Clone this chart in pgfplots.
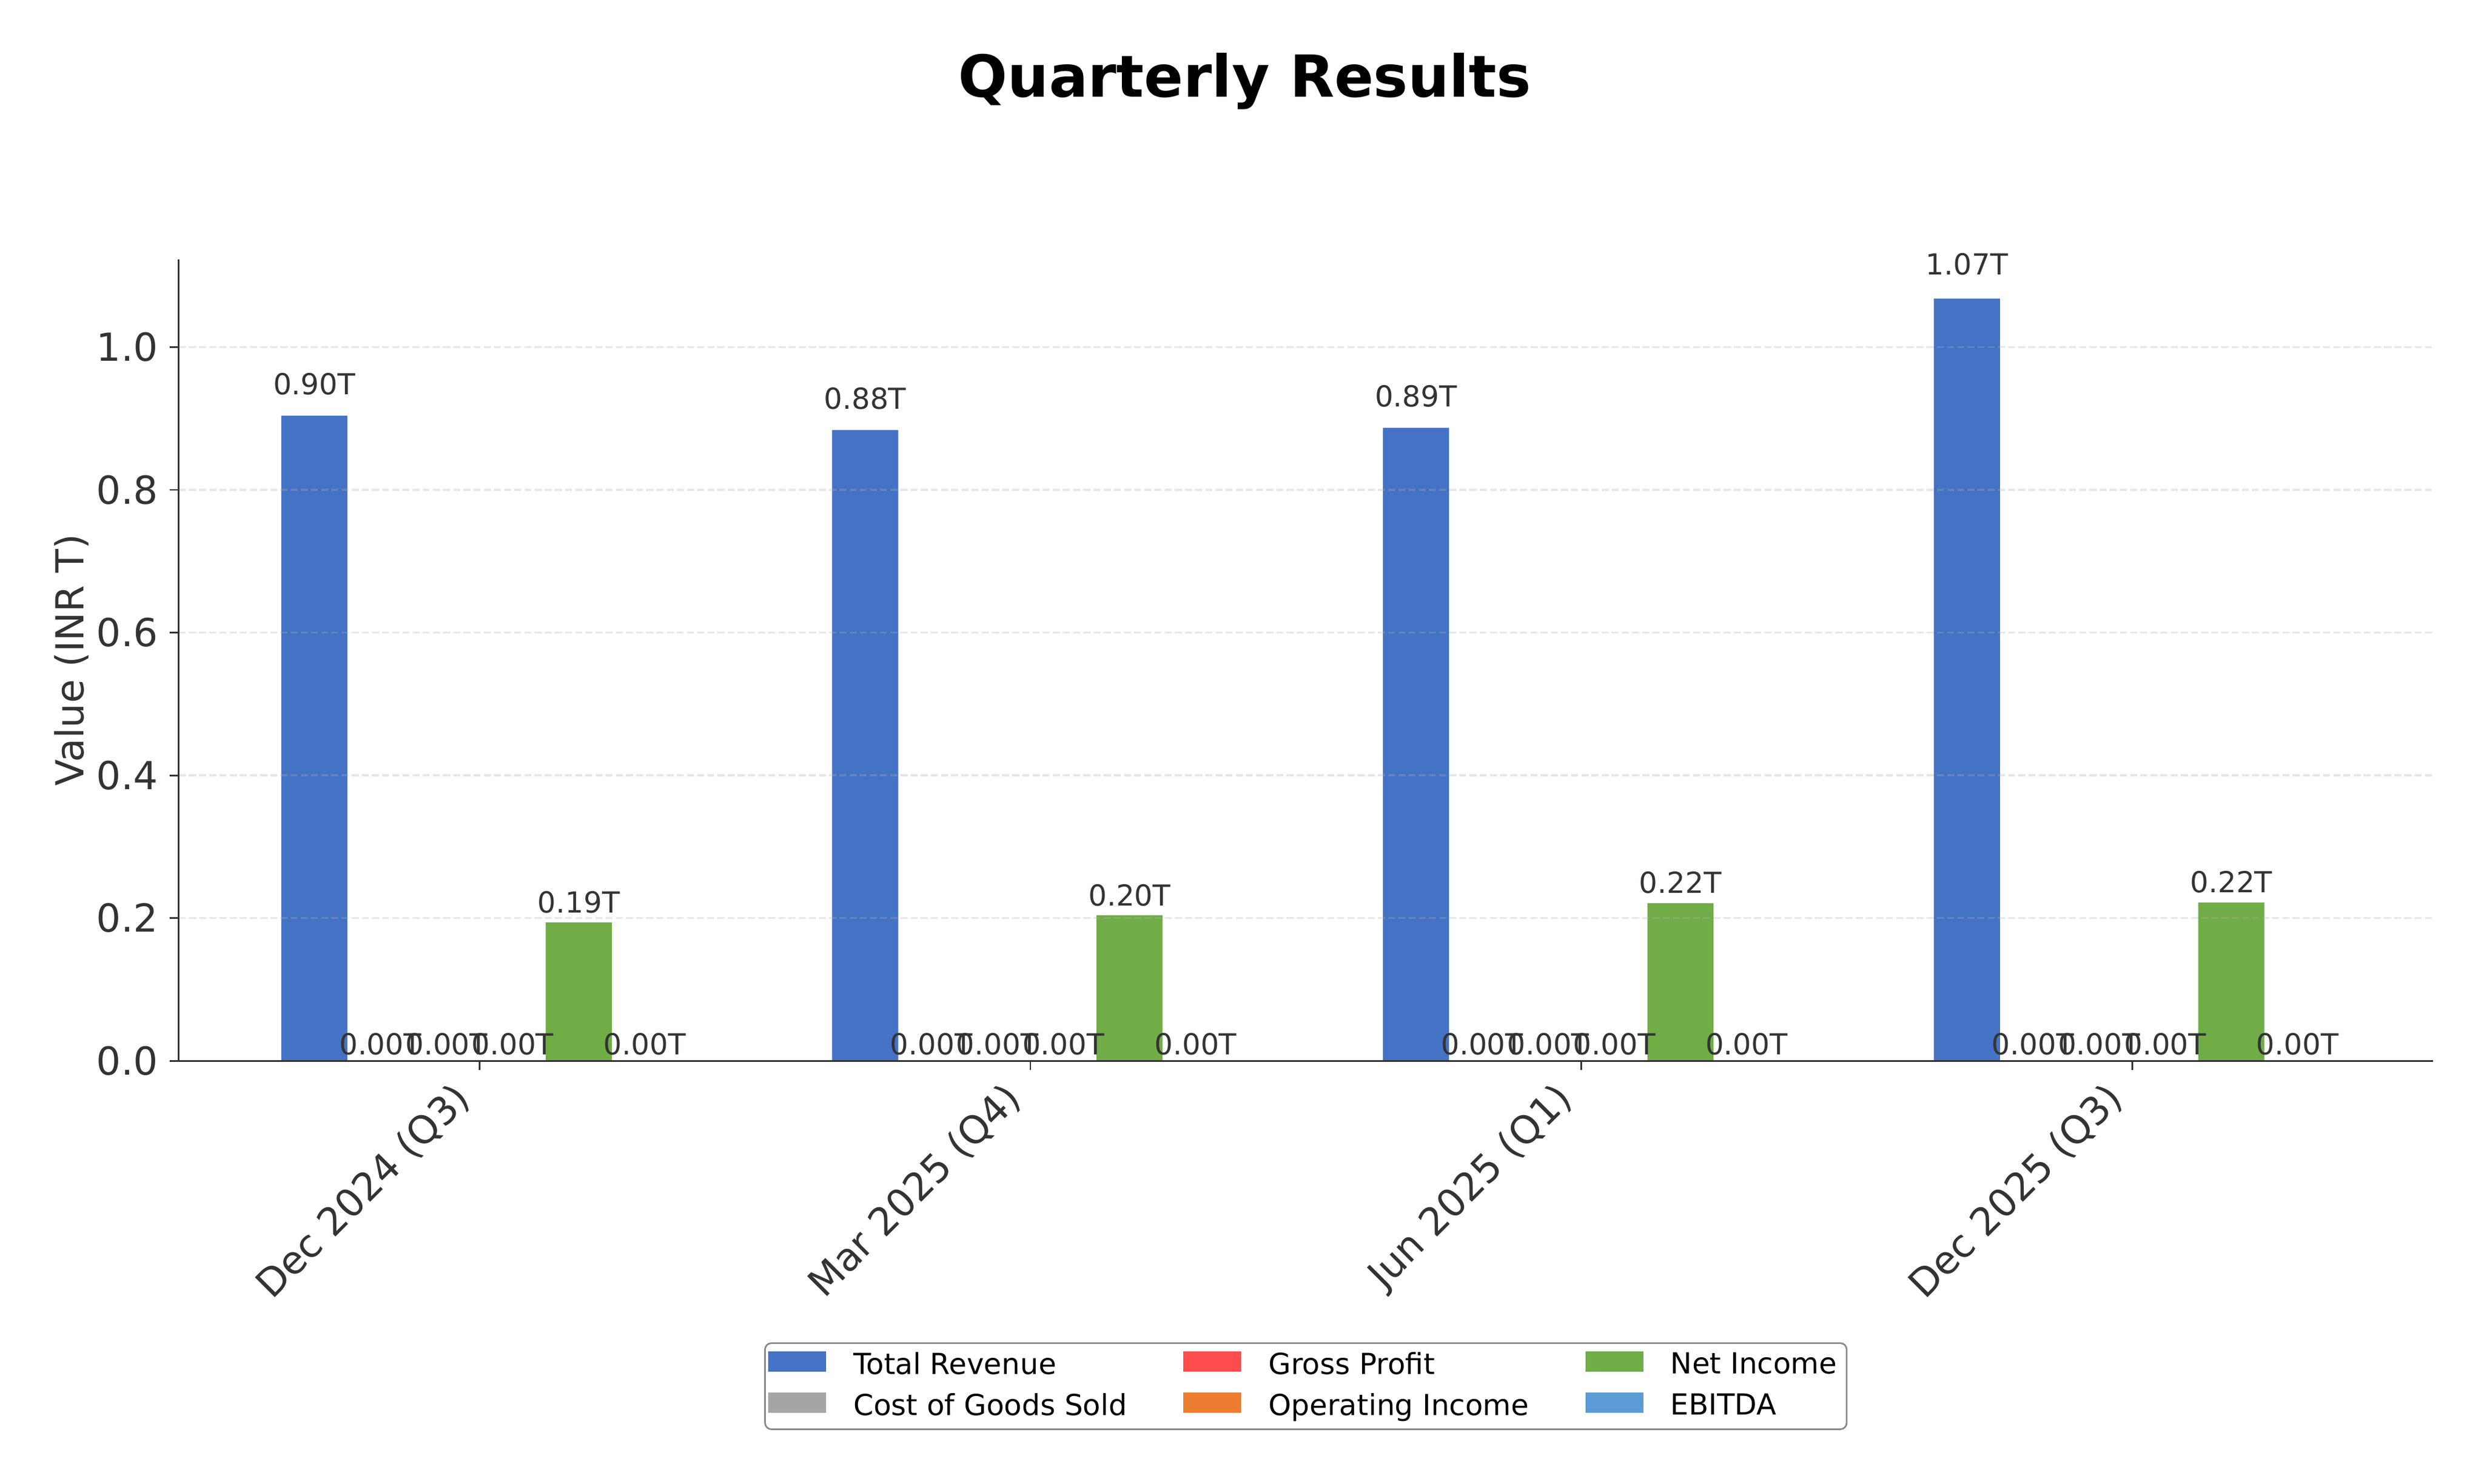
\documentclass[border=0pt]{standalone}
\usepackage{fontspec}
\setmainfont{DejaVu Sans}
\usepackage{pgfplots}
\pgfplotsset{compat=1.18}
\pgfkeys{/pgf/number format/assume math mode=true}

\definecolor{crev}{HTML}{4472C4}
\definecolor{ccogs}{HTML}{A5A5A5}
\definecolor{cgp}{HTML}{FF4C4C}
\definecolor{coi}{HTML}{ED7D31}
\definecolor{cni}{HTML}{70AD47}
\definecolor{cebitda}{HTML}{5B9BD5}
\definecolor{c333}{HTML}{333333}
\definecolor{cframe}{HTML}{888888}
\definecolor{cgrid}{HTML}{B0B0B0}

\begin{document}
\begin{tikzpicture}
\useasboundingbox (-55.6pt,-131.5pt) rectangle (716.8pt,329.8pt);
\node[anchor=base, font=\bfseries\fontsize{18}{22}\selectfont] at (331.5pt,299.6pt) {Quarterly Results};
\begin{axis}[
  at={(0,0)}, anchor=south west,
  width=700.9pt, height=249.2pt, scale only axis,
  ybar=0pt, bar width=0.12,
  xmin=-0.546, xmax=3.546, ymin=0, ymax=1.1231,
  axis on top, clip=false,
  axis x line*=bottom, axis y line*=left,
  axis line style={-, draw=c333, line width=0.5pt},
  tick align=outside, major tick length=2.8pt,
  tick style={draw=c333, line width=0.5pt},
  xtick={0,1,2,3},
  xticklabels={Dec 2024 (Q3), Mar 2025 (Q4), Jun 2025 (Q1), Dec 2025 (Q3)},
  ytick={0,0.2,0.4,0.6,0.8,1.0},
  ticklabel style={font=\fontsize{12}{14}\selectfont, text=c333},
  yticklabel style={/pgf/number format/fixed, /pgf/number format/fixed zerofill,
    /pgf/number format/precision=1, inner sep=0pt, xshift=-3.5pt},
  xticklabel style={rotate=45, anchor=north east, inner sep=0pt, xshift=-8.2pt, yshift=4.2pt},
  ymajorgrids,
  major grid style={draw=cgrid, opacity=0.3, line width=0.6pt, dash pattern=on 2.2pt off 0.96pt},
  ylabel={Value (INR T)},
  every axis y label/.style={at={(axis description cs:-0.0475,0.5)}, rotate=90, anchor=center,
    font=\fontsize{12}{14}\selectfont, text=c333},
  legend columns=2, transpose legend, legend cell align=left,
  legend style={at={(0.5,0)}, anchor=north, yshift=-87.5pt,
    font=\fontsize{9}{11}\selectfont, draw=cframe, line width=0.5pt,
    rounded corners=2pt, inner xsep=1pt, inner ysep=0.8pt, row sep=0.5pt,
    /tikz/every odd column/.append style={column sep=6.5pt},
    /tikz/every even column/.append style={column sep=15.5pt}},
  legend image code/.code={\fill[#1, sharp corners] (0pt,-1.9pt) rectangle (18pt,4.4pt);},
  visualization depends on={rawy \as \rawy},
  nodes near coords={\pgfmathprintnumber[fixed, fixed zerofill, precision=2]{\rawy}T},
  every node near coord/.append style={font=\fontsize{9}{11}\selectfont, text=c333,
    anchor=base, inner sep=0pt, yshift={1.9pt+5.2pt*\rawy}},
]
\addplot[fill=crev, draw=none] coordinates {(0,0.904) (1,0.884) (2,0.887) (3,1.068)};
\addlegendentry{Total Revenue}
\addplot[fill=ccogs, draw=none] coordinates {(0,0) (1,0) (2,0) (3,0)};
\addlegendentry{Cost of Goods Sold}
\addplot[fill=cgp, draw=none] coordinates {(0,0) (1,0) (2,0) (3,0)};
\addlegendentry{Gross Profit}
\addplot[fill=coi, draw=none] coordinates {(0,0) (1,0) (2,0) (3,0)};
\addlegendentry{Operating Income}
\addplot[fill=cni, draw=none] coordinates {(0,0.194) (1,0.204) (2,0.221) (3,0.222)};
\addlegendentry{Net Income}
\addplot[fill=cebitda, draw=none] coordinates {(0,0) (1,0) (2,0) (3,0)};
\addlegendentry{EBITDA}
\end{axis}
\end{tikzpicture}
\end{document}
